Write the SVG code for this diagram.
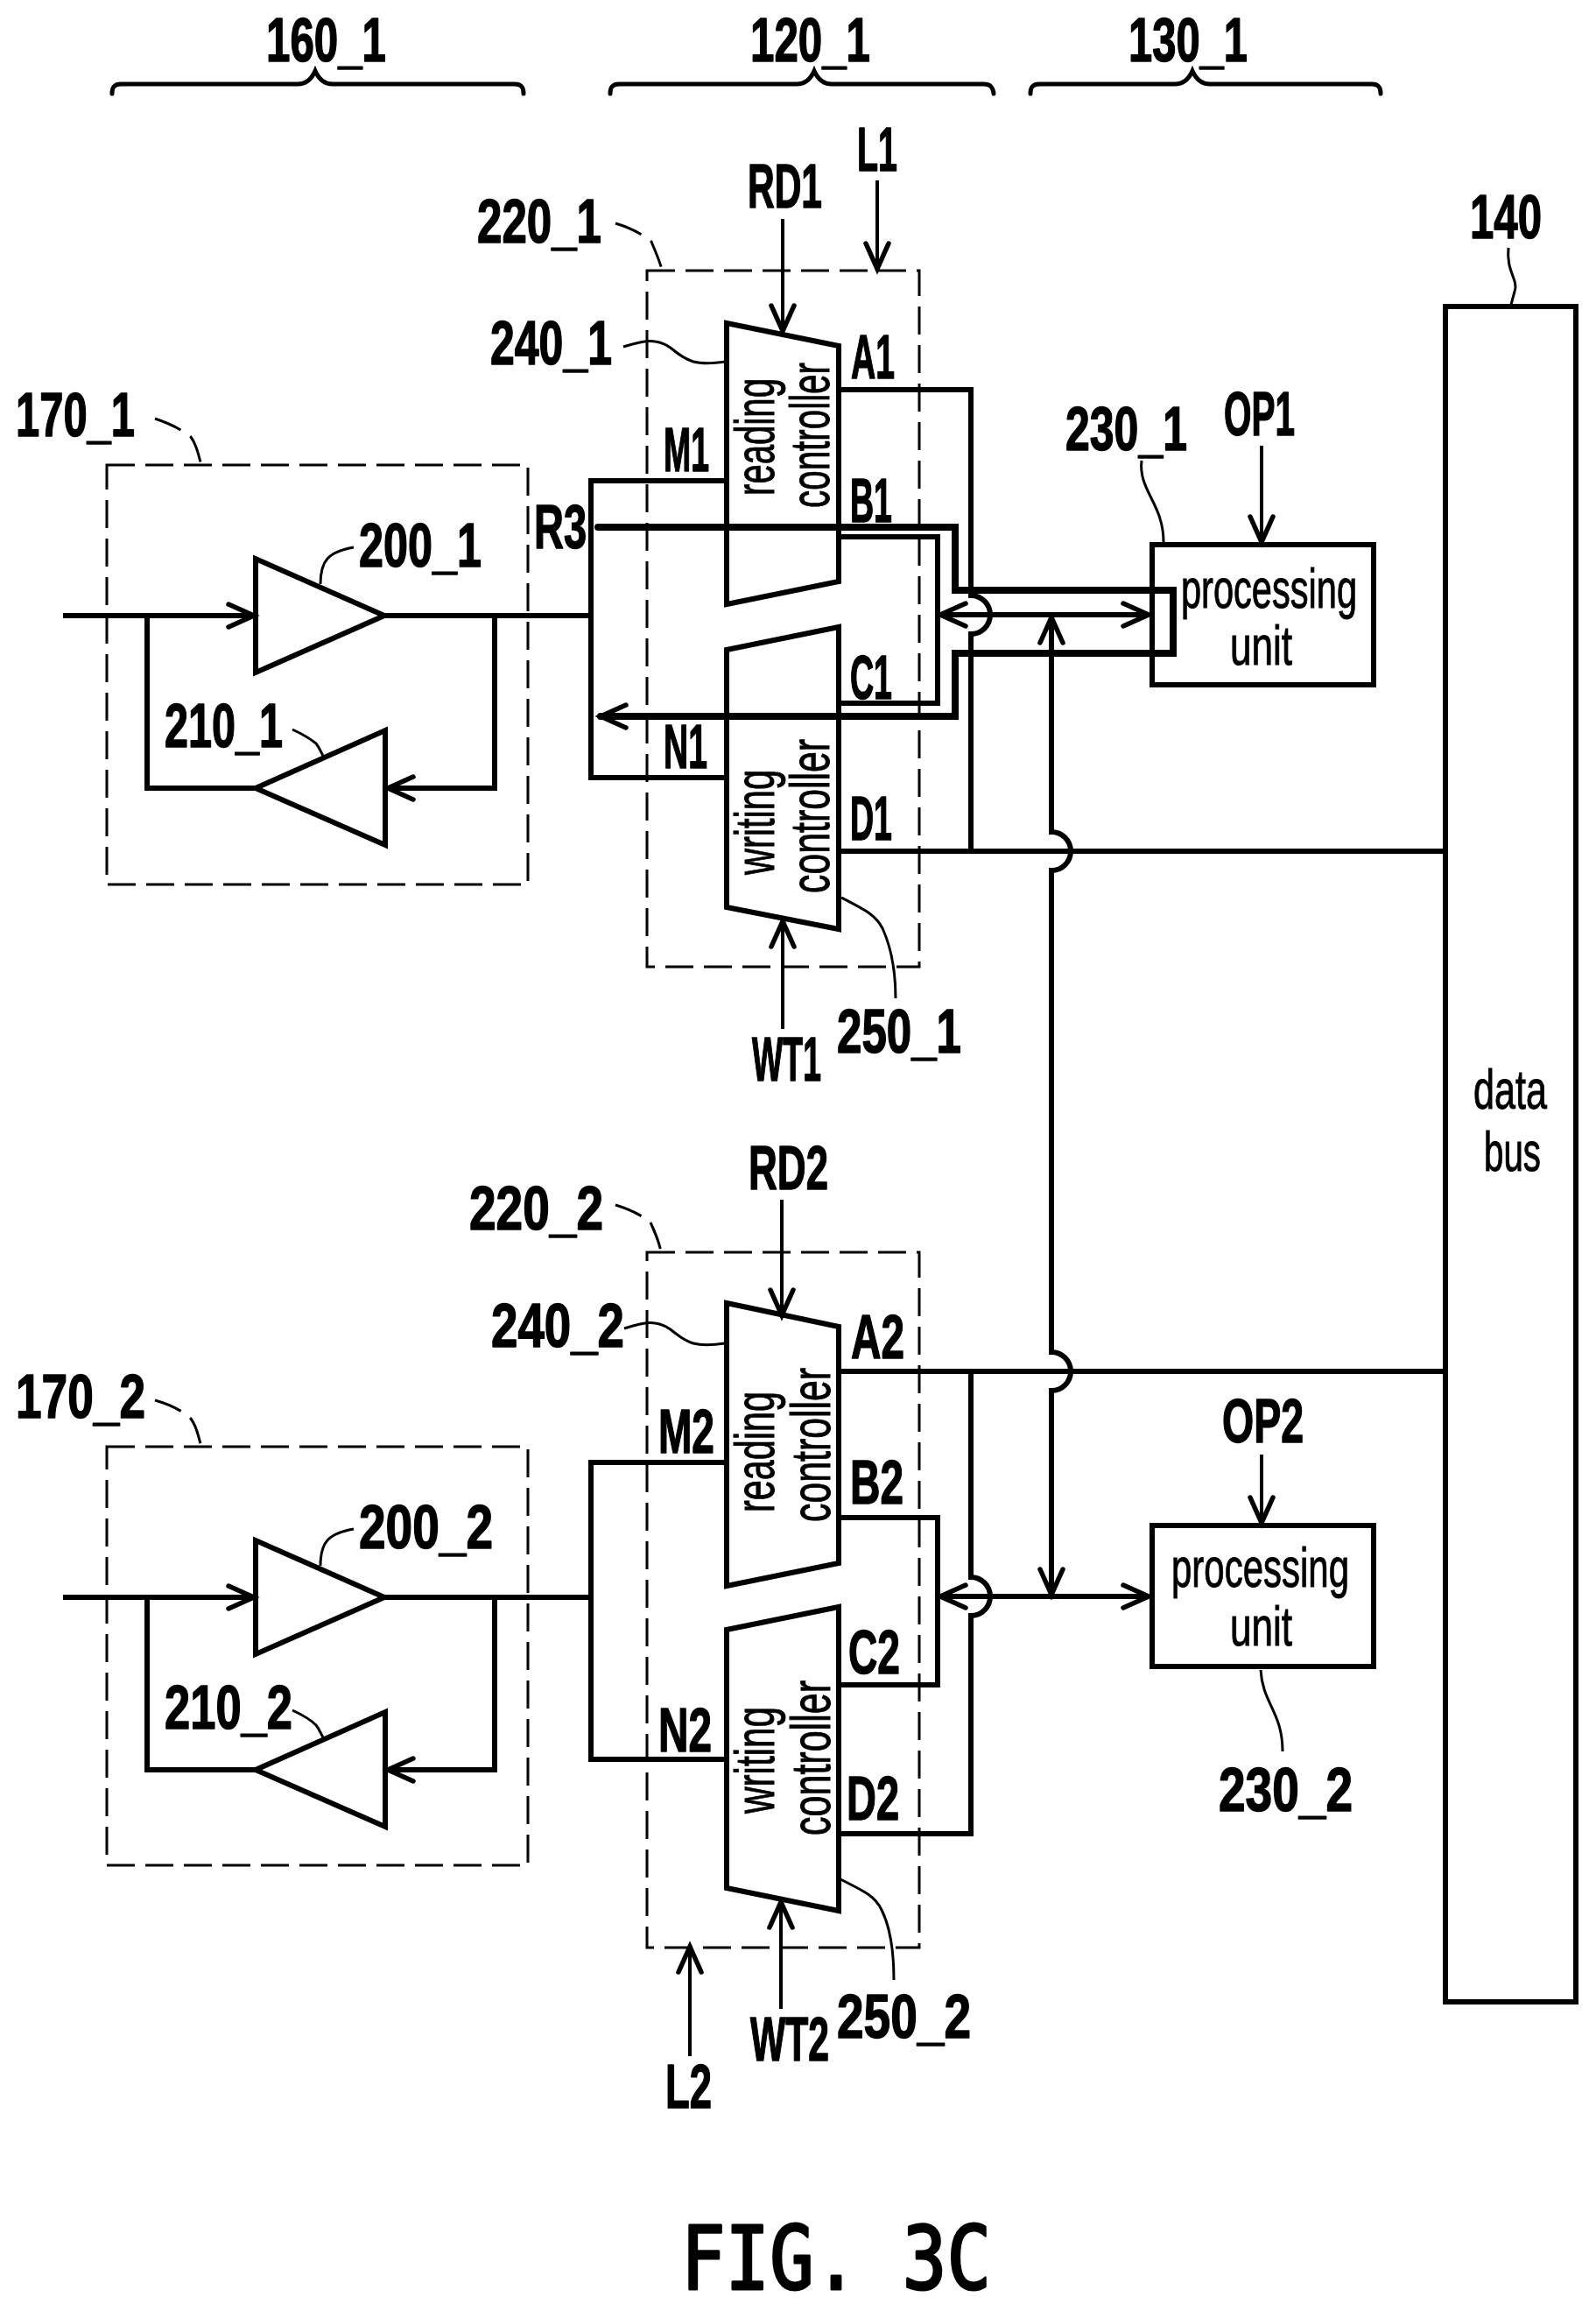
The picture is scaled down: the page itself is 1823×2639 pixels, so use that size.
<svg xmlns="http://www.w3.org/2000/svg" width="1823" height="2639" viewBox="0 0 1823 2639">
<style>
text{font-family:"Liberation Sans",Arial,sans-serif;fill:#000}
.l{font-size:70px;font-weight:700;stroke:#000;stroke-width:1.5;stroke-linejoin:round}
.p{font-size:63px;stroke:#000;stroke-width:1}
.fig{font-family:"DejaVu Sans Mono","Liberation Mono",monospace;font-size:100px;stroke:#000;stroke-width:3;stroke-linejoin:round}
.s{fill:none;stroke:#000;stroke-width:6;stroke-linejoin:miter}
.w{fill:none;stroke:#000;stroke-width:6}
.t{fill:none;stroke:#000;stroke-width:8}
.a{fill:none;stroke:#000;stroke-width:4}
.d{fill:none;stroke:#000;stroke-width:3;stroke-dasharray:32 12}
.c{fill:none;stroke:#000;stroke-width:3}
.b{fill:none;stroke:#000;stroke-width:5;stroke-linecap:round}
</style>
<defs>
<marker id="v" markerUnits="userSpaceOnUse" markerWidth="40" markerHeight="40" refX="0" refY="0" orient="auto-start-reverse" overflow="visible"><path d="M-29,-13 L0,0 L-29,13" fill="none" stroke="#000" stroke-width="5.5" stroke-linecap="round"/></marker>
</defs>
<rect width="1823" height="2639" fill="#fff"/>

<g id="connectors">
<!-- upper channel -->
<path class="w" d="M72 703H290" marker-end="url(#v)"/>
<path class="w" d="M168 703V900H292"/>
<path class="w" d="M439 703H675"/>
<path class="w" d="M565 703V900H443" marker-end="url(#v)"/>
<path class="w" d="M830 549H675V888H830"/>
<path class="w" d="M958 445H1109V680A22 22 0 0 1 1109 724V972"/>
<path class="w" d="M958 972H1650"/>
<path class="w" d="M958 613H1071V803H958"/>
<path class="t" stroke-linecap="round" d="M683 602H1091V674H1340V746H1091V818H686" marker-end="url(#v)"/>
<path class="w" d="M1074 702H1312" marker-start="url(#v)" marker-end="url(#v)"/>
<path class="w" d="M1201 705V950A22 22 0 0 1 1201 994V1544A22 22 0 0 1 1201 1588V1821" marker-start="url(#v)" marker-end="url(#v)"/>
<path class="a" d="M894 250V378" marker-end="url(#v)"/>
<path class="a" d="M1002 206V307" marker-end="url(#v)"/>
<path class="a" d="M1441 509V619" marker-end="url(#v)"/>
<path class="a" d="M894 1175V1052" marker-end="url(#v)"/>
<!-- lower channel -->
<path class="w" d="M72 1824H290" marker-end="url(#v)"/>
<path class="w" d="M168 1824V2021H292"/>
<path class="w" d="M439 1824H675"/>
<path class="w" d="M565 1824V2021H443" marker-end="url(#v)"/>
<path class="w" d="M830 1670H675V2009H830"/>
<path class="w" d="M958 1566H1650"/>
<path class="w" d="M1109 1566V1801A22 22 0 0 1 1109 1845V2094H958"/>
<path class="w" d="M958 1733H1071V1924H958"/>
<path class="w" d="M1074 1823H1312" marker-start="url(#v)" marker-end="url(#v)"/>
<path class="a" d="M893 1370V1502" marker-end="url(#v)"/>
<path class="a" d="M1441 1661V1739" marker-end="url(#v)"/>
<path class="a" d="M892 2294V2172" marker-end="url(#v)"/>
<path class="a" d="M788 2348V2223" marker-end="url(#v)"/>
</g>

<g id="leaders">
<path class="c" stroke-dasharray="32 13" d="M177 478C195 484 210 492 218 499C226 510 226 520 230 530"/>
<path class="c" stroke-dasharray="32 13" d="M177 1599C195 1604 210 1612 218 1620C226 1631 226 1641 230 1651"/>
<path class="c" stroke-dasharray="32 13" d="M703 255C720 260 735 268 744 276C750 290 754 300 756 308"/>
<path class="c" stroke-dasharray="32 13" d="M703 1376C720 1381 735 1389 743 1396C750 1411 753 1420 755 1429"/>
<path class="c" d="M404 625C375 630 366 640 366 667"/>
<path class="c" d="M404 1746C375 1751 366 1761 366 1788"/>
<path class="c" d="M334 833C345 838 356 845 361 849C365 854 366 858 369 863"/>
<path class="c" d="M334 1953C345 1958 356 1965 361 1970C365 1975 366 1979 369 1984"/>
<path class="c" d="M712 396C735 389 750 385 767 398C785 413 795 418 829 413"/>
<path class="c" d="M713 1517C735 1510 750 1506 767 1519C785 1534 795 1539 828 1534"/>
<path class="c" d="M961 1025C990 1040 1000 1045 1008 1060C1018 1082 1023 1110 1023 1140"/>
<path class="c" d="M960 2146C990 2161 1000 2166 1007 2181C1018 2203 1021 2231 1021 2261"/>
<path class="c" d="M1304 526C1300 560 1329 575 1329 619"/>
<path class="c" d="M1440 1907C1442 1945 1465 1955 1465 2000"/>
<path class="c" d="M1723 283C1720 310 1735 320 1730 333C1728 340 1727 344 1726 348"/>
</g>

<g id="brace-160_1"><path class="b" d="M128 107C128 99 131 96 138 96H340C350 96 356 90 360 81C364 90 370 96 380 96H588C595 96 598 99 598 107"/><text class="l" x="304" y="70" textLength="137" lengthAdjust="spacingAndGlyphs">160_1</text></g>
<g id="brace-120_1"><path class="b" d="M697 107C697 99 700 96 707 96H910C920 96 926 90 930 81C934 90 940 96 950 96H1124C1131 96 1134 99 1135 107"/><text class="l" x="857" y="70" textLength="137" lengthAdjust="spacingAndGlyphs">120_1</text></g>
<g id="brace-130_1"><path class="b" d="M1177 107C1177 99 1180 96 1187 96H1342C1352 96 1358 90 1362 81C1366 90 1372 96 1382 96H1567C1574 96 1577 99 1577 107"/><text class="l" x="1289" y="70" textLength="136" lengthAdjust="spacingAndGlyphs">130_1</text></g>

<g id="node-170_1"><rect class="d" x="122" y="531" width="481" height="479"/><text class="l" x="18" y="498" textLength="136" lengthAdjust="spacingAndGlyphs">170_1</text></g>
<g id="node-200_1"><path class="s" d="M292 638V768L439 703Z"/><text class="l" x="410" y="647" textLength="140" lengthAdjust="spacingAndGlyphs">200_1</text></g>
<g id="node-210_1"><path class="s" d="M440 834V965L292 900Z"/><text class="l" x="188" y="853" textLength="135" lengthAdjust="spacingAndGlyphs">210_1</text></g>
<g id="node-220_1"><rect class="d" x="739" y="309" width="311" height="795"/><text class="l" x="545" y="277" textLength="142" lengthAdjust="spacingAndGlyphs">220_1</text></g>
<g id="node-240_1"><path class="s" d="M830 369L958 395V664L830 690Z"/><text class="l" x="560" y="416" textLength="139" lengthAdjust="spacingAndGlyphs">240_1</text><text class="p" x="884" y="566" transform="rotate(-90 884 566)" textLength="134" lengthAdjust="spacingAndGlyphs">reading</text><text class="p" x="947" y="580" transform="rotate(-90 947 580)" textLength="166" lengthAdjust="spacingAndGlyphs">controller</text></g>
<g id="node-250_1"><path class="s" d="M830 742L958 716V1061L830 1036Z"/><text class="l" x="956" y="1202" textLength="142" lengthAdjust="spacingAndGlyphs">250_1</text><text class="p" x="884" y="999" transform="rotate(-90 884 999)" textLength="120" lengthAdjust="spacingAndGlyphs">writing</text><text class="p" x="947" y="1020" transform="rotate(-90 947 1020)" textLength="176" lengthAdjust="spacingAndGlyphs">controller</text></g>
<g id="node-230_1"><rect class="s" x="1316" y="622" width="253" height="160"/><text class="p" x="1349" y="694" textLength="201" lengthAdjust="spacingAndGlyphs">processing</text><text class="p" x="1405" y="759" textLength="71" lengthAdjust="spacingAndGlyphs">unit</text><text class="l" x="1217" y="514" textLength="139" lengthAdjust="spacingAndGlyphs">230_1</text></g>
<g id="node-140"><rect class="s" x="1651" y="350" width="149" height="1936"/><text class="p" x="1683" y="1266" textLength="84" lengthAdjust="spacingAndGlyphs">data</text><text class="p" x="1695" y="1337" textLength="65" lengthAdjust="spacingAndGlyphs">bus</text><text class="l" x="1679" y="272" textLength="82" lengthAdjust="spacingAndGlyphs">140</text></g>

<g id="node-170_2"><rect class="d" x="122" y="1652" width="481" height="478"/><text class="l" x="18" y="1619" textLength="148" lengthAdjust="spacingAndGlyphs">170_2</text></g>
<g id="node-200_2"><path class="s" d="M292 1759V1889L439 1824Z"/><text class="l" x="410" y="1768" textLength="153" lengthAdjust="spacingAndGlyphs">200_2</text></g>
<g id="node-210_2"><path class="s" d="M440 1955V2086L292 2021Z"/><text class="l" x="188" y="1974" textLength="146" lengthAdjust="spacingAndGlyphs">210_2</text></g>
<g id="node-220_2"><rect class="d" x="739" y="1430" width="311" height="794"/><text class="l" x="536" y="1404" textLength="153" lengthAdjust="spacingAndGlyphs">220_2</text></g>
<g id="node-240_2"><path class="s" d="M830 1488L958 1515V1785L830 1811Z"/><text class="l" x="561" y="1538" textLength="152" lengthAdjust="spacingAndGlyphs">240_2</text><text class="p" x="884" y="1727" transform="rotate(-90 884 1727)" textLength="138" lengthAdjust="spacingAndGlyphs">reading</text><text class="p" x="948" y="1738" transform="rotate(-90 948 1738)" textLength="176" lengthAdjust="spacingAndGlyphs">controller</text></g>
<g id="node-250_2"><path class="s" d="M830 1861L958 1835V2182L830 2156Z"/><text class="l" x="956" y="2327" textLength="153" lengthAdjust="spacingAndGlyphs">250_2</text><text class="p" x="884" y="2071" transform="rotate(-90 884 2071)" textLength="122" lengthAdjust="spacingAndGlyphs">writing</text><text class="p" x="948" y="2096" transform="rotate(-90 948 2096)" textLength="177" lengthAdjust="spacingAndGlyphs">controller</text></g>
<g id="node-230_2"><rect class="s" x="1316" y="1742" width="253" height="161"/><text class="p" x="1338" y="1812" textLength="203" lengthAdjust="spacingAndGlyphs">processing</text><text class="p" x="1405" y="1879" textLength="71" lengthAdjust="spacingAndGlyphs">unit</text><text class="l" x="1392" y="2068" textLength="153" lengthAdjust="spacingAndGlyphs">230_2</text></g>

<g id="labels">
<text class="l" x="854" y="237" textLength="85" lengthAdjust="spacingAndGlyphs">RD1</text>
<text class="l" x="979" y="195" textLength="46" lengthAdjust="spacingAndGlyphs">L1</text>
<text class="l" x="1398" y="497" textLength="81" lengthAdjust="spacingAndGlyphs">OP1</text>
<text class="l" x="972" y="432" textLength="50" lengthAdjust="spacingAndGlyphs">A1</text>
<text class="l" x="971" y="596" textLength="48" lengthAdjust="spacingAndGlyphs">B1</text>
<text class="l" x="971" y="798" textLength="48" lengthAdjust="spacingAndGlyphs">C1</text>
<text class="l" x="971" y="959" textLength="48" lengthAdjust="spacingAndGlyphs">D1</text>
<text class="l" x="758" y="538" textLength="52" lengthAdjust="spacingAndGlyphs">M1</text>
<text class="l" x="758" y="877" textLength="50" lengthAdjust="spacingAndGlyphs">N1</text>
<text class="l" x="610" y="626" textLength="60" lengthAdjust="spacingAndGlyphs">R3</text>
<text class="l" x="859" y="1234" textLength="79" lengthAdjust="spacingAndGlyphs">WT1</text>
<text class="l" x="855" y="1358" textLength="91" lengthAdjust="spacingAndGlyphs">RD2</text>
<text class="l" x="1396" y="1647" textLength="93" lengthAdjust="spacingAndGlyphs">OP2</text>
<text class="l" x="972" y="1551" textLength="61" lengthAdjust="spacingAndGlyphs">A2</text>
<text class="l" x="971" y="1717" textLength="61" lengthAdjust="spacingAndGlyphs">B2</text>
<text class="l" x="969" y="1911" textLength="59" lengthAdjust="spacingAndGlyphs">C2</text>
<text class="l" x="967" y="2078" textLength="60" lengthAdjust="spacingAndGlyphs">D2</text>
<text class="l" x="752" y="1659" textLength="64" lengthAdjust="spacingAndGlyphs">M2</text>
<text class="l" x="752" y="2000" textLength="61" lengthAdjust="spacingAndGlyphs">N2</text>
<text class="l" x="857" y="2353" textLength="90" lengthAdjust="spacingAndGlyphs">WT2</text>
<text class="l" x="760" y="2407" textLength="53" lengthAdjust="spacingAndGlyphs">L2</text>
<text class="fig" x="778" y="2614" textLength="354" lengthAdjust="spacingAndGlyphs">FIG. 3C</text>
</g>
</svg>
